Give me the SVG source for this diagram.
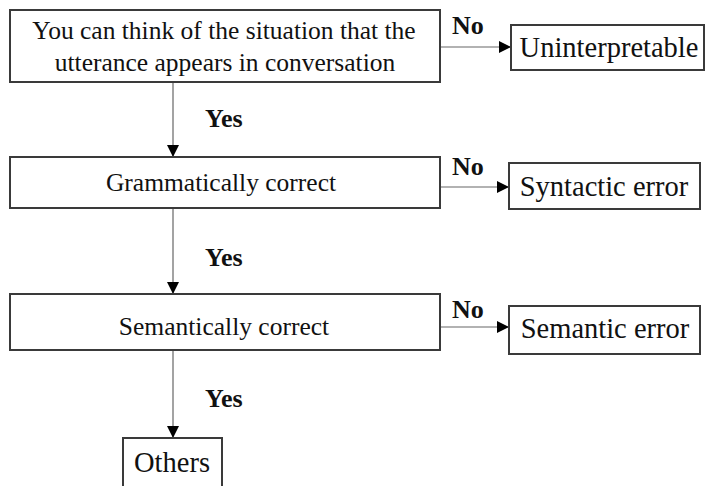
<svg xmlns="http://www.w3.org/2000/svg" width="710" height="486" viewBox="0 0 710 486">
<defs>
<style>
.box{fill:#fff;stroke:#3a3a3a;stroke-width:2}
.t{font-family:"Liberation Serif",serif;font-size:25.5px;fill:#111;text-anchor:middle}
.t2{font-family:"Liberation Serif",serif;font-size:28.5px;fill:#111;text-anchor:middle}
.lbl{font-family:"Liberation Serif",serif;font-size:26px;font-weight:bold;fill:#111}
.ln{stroke:#666;stroke-width:1.2;fill:none}
</style>
<marker id="ah" markerWidth="13" markerHeight="13" refX="12" refY="6" orient="auto" markerUnits="userSpaceOnUse">
<path d="M0,0 L12,6 L0,12 z" fill="#000"/>
</marker>
</defs>
<rect width="710" height="486" fill="#fff"/>
<g id="connectors">
<line class="ln" x1="440" y1="47" x2="511" y2="47" marker-end="url(#ah)"/>
<line class="ln" x1="173" y1="82" x2="173" y2="157" marker-end="url(#ah)"/>
<line class="ln" x1="440" y1="187" x2="509" y2="187" marker-end="url(#ah)"/>
<line class="ln" x1="173" y1="208" x2="173" y2="294" marker-end="url(#ah)"/>
<line class="ln" x1="440" y1="327" x2="509" y2="327" marker-end="url(#ah)"/>
<line class="ln" x1="173" y1="350" x2="173" y2="438" marker-end="url(#ah)"/>
<text class="lbl" x="452" y="34">No</text>
<text class="lbl" x="205" y="127">Yes</text>
<text class="lbl" x="452" y="175">No</text>
<text class="lbl" x="205" y="266">Yes</text>
<text class="lbl" x="452" y="318">No</text>
<text class="lbl" x="205" y="407">Yes</text>
</g>
<g id="n1">
<rect class="box" x="10" y="10" width="430" height="72"/>
<text class="t" x="224" y="39">You can think of the situation that the</text>
<text class="t" x="225" y="71">utterance appears in conversation</text>
</g>
<g id="n2">
<rect class="box" x="511" y="25" width="193" height="45"/>
<text class="t2" x="609" y="57">Uninterpretable</text>
</g>
<g id="n3">
<rect class="box" x="10" y="157" width="430" height="51"/>
<text class="t" x="221" y="191">Grammatically correct</text>
</g>
<g id="n4">
<rect class="box" x="509" y="163" width="191" height="46"/>
<text class="t2" x="604" y="196">Syntactic error</text>
</g>
<g id="n5">
<rect class="box" x="10" y="294" width="430" height="56"/>
<text class="t" x="224" y="335">Semantically correct</text>
</g>
<g id="n6">
<rect class="box" x="509" y="306" width="191" height="48"/>
<text class="t2" x="605" y="338">Semantic error</text>
</g>
<g id="n7">
<rect class="box" x="123" y="438" width="99" height="52"/>
<text class="t2" x="172" y="472">Others</text>
</g>
</svg>
